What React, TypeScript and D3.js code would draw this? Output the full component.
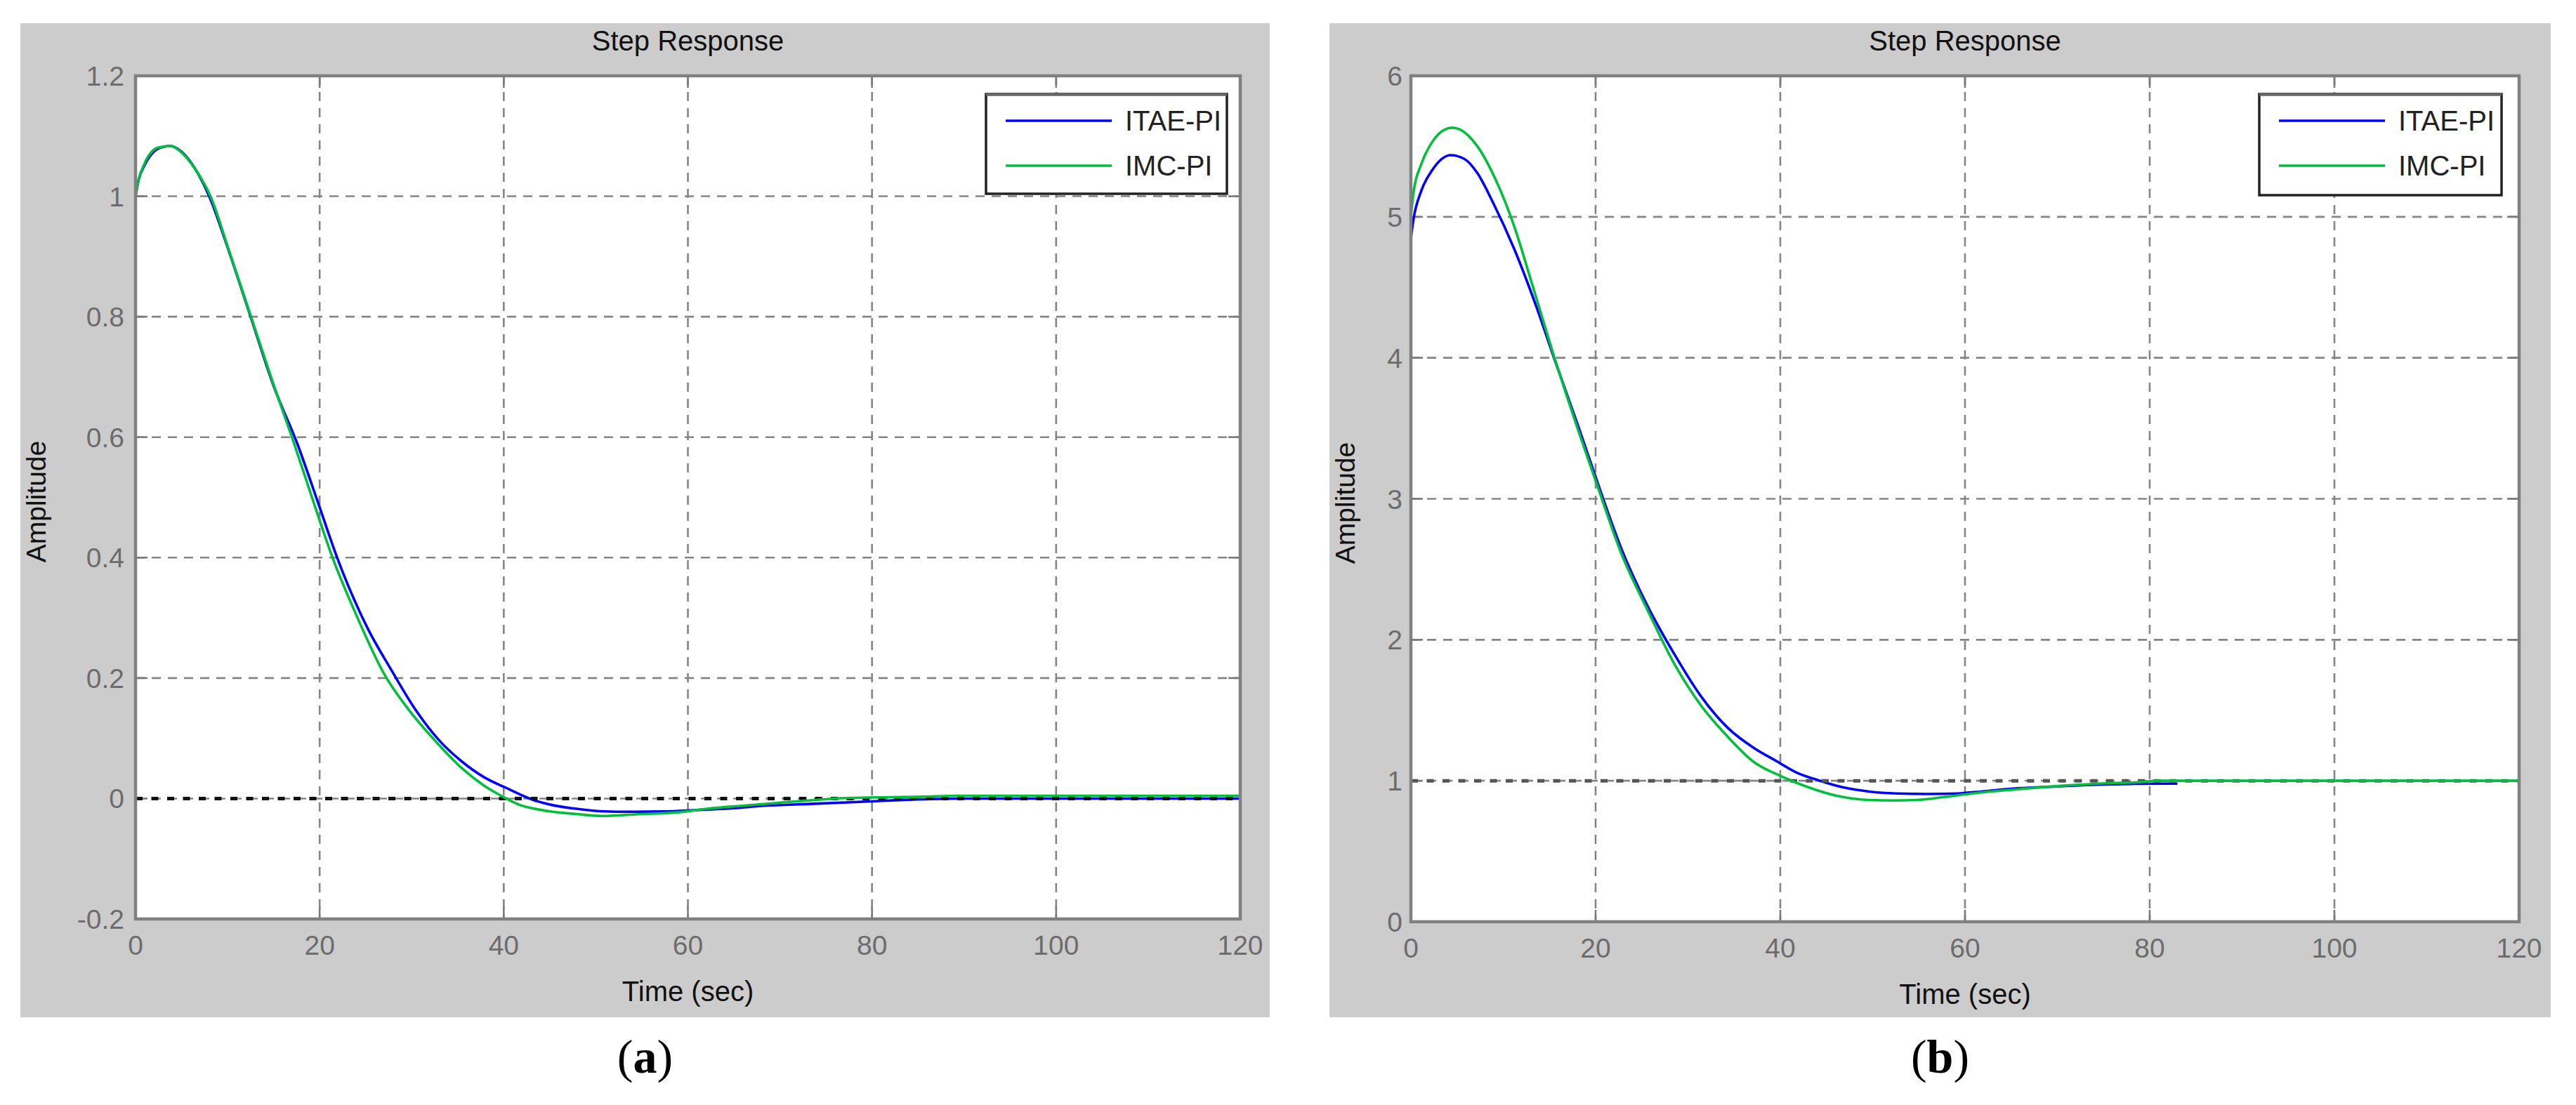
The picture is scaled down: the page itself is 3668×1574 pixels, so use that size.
import React from "react";
import * as d3 from "d3";

// ---------- DATA ----------
const xTicks = [0, 20, 40, 60, 80, 100, 120];
const xTickLabels = ["0", "20", "40", "60", "80", "100", "120"];

const yTicksA = [-0.2, 0, 0.2, 0.4, 0.6, 0.8, 1.0, 1.2];
const yTickLabelsA = ["-0.2", "0", "0.2", "0.4", "0.6", "0.8", "1", "1.2"];
const yTicksB = [0, 1, 2, 3, 4, 5, 6];
const yTickLabelsB = ["0", "1", "2", "3", "4", "5", "6"];

const seriesNames = ["ITAE-PI", "IMC-PI"];
const seriesColors = ["#0000ff", "#00bf3c"];

const finalValueA = 0;
const finalValueB = 1;

// Panel (a) ITAE-PI
const tA_itae = [0, 0.3, 1, 2, 3, 3.8, 5, 6.5, 8, 10, 12.5, 15, 17.6, 19.9, 21.9, 25.2, 27.8, 30.3, 32.9, 35.4, 37.9, 40.2, 43.3, 45.3, 47.6, 50.4, 54, 57.4, 61, 64.5, 68.3, 73.3, 79.5, 84, 90, 100, 110, 120];
const vA_itae = [1.0, 1.025, 1.052, 1.074, 1.082, 1.0835, 1.074, 1.045, 1.0, 0.915, 0.8, 0.685, 0.588, 0.488, 0.4, 0.283, 0.213, 0.15, 0.098, 0.062, 0.035, 0.018, -0.003, -0.011, -0.0165, -0.021, -0.022, -0.0215, -0.019, -0.0165, -0.012, -0.009, -0.005, -0.002, 0, 0, 0, 0];
// Panel (a) IMC-PI
const tA_imc = [0, 0.3, 1, 2.5, 3.8, 4.9, 6.4, 8.2, 10, 12.5, 15, 17.1, 19.1, 21.4, 24, 27, 29.8, 32.9, 35.4, 37.9, 39.8, 41.8, 43.7, 45.3, 48, 50.7, 54.6, 58.9, 62.4, 65.9, 69.4, 73.3, 77.6, 85.4, 89.3, 100, 120];
const vA_imc = [1.0, 1.025, 1.055, 1.081, 1.0835, 1.074, 1.047, 0.998, 0.917, 0.802, 0.687, 0.595, 0.503, 0.4, 0.304, 0.207, 0.145, 0.09, 0.051, 0.021, 0.004, -0.011, -0.018, -0.022, -0.026, -0.029, -0.026, -0.023, -0.0165, -0.012, -0.0076, -0.003, 0.001, 0.003, 0.0045, 0.0045, 0.0045];

// Panel (b) ITAE-PI
const tB_itae = [0, 0.3, 1.1, 2.3, 4.3, 5.8, 7.2, 8.9, 11.2, 13.6, 15.6, 18.2, 20.5, 22.8, 25.7, 28.6, 31.4, 34.3, 37.2, 39.5, 41.7, 44.3, 46.9, 49.6, 52.6, 56, 59.2, 61.8, 65.7, 70.1, 74.4, 78, 81.4, 83];
const vB_itae = [4.85, 4.99, 5.18, 5.33, 5.437, 5.41, 5.31, 5.1, 4.77, 4.36, 3.98, 3.5, 3.06, 2.645, 2.23, 1.89, 1.6, 1.376, 1.23, 1.143, 1.06, 1.0, 0.952, 0.924, 0.91, 0.906, 0.91, 0.924, 0.947, 0.96, 0.973, 0.978, 0.98, 0.98];
// Panel (b) IMC-PI
const tB_imc = [0, 0.3, 1.1, 2.3, 3.7, 4.5, 5.3, 7.2, 9.2, 11.2, 13.0, 15.6, 18.2, 20.2, 22.8, 25.7, 28.6, 31.4, 34.3, 37.2, 40.0, 43.0, 46.1, 49.6, 52.2, 54.8, 57.9, 61.3, 65.7, 70.1, 74.4, 78.8, 81, 90, 100, 120];
const vB_imc = [5.01, 5.18, 5.37, 5.53, 5.62, 5.632, 5.62, 5.5, 5.26, 4.93, 4.55, 3.99, 3.47, 3.09, 2.61, 2.2, 1.82, 1.535, 1.313, 1.13, 1.035, 0.955, 0.894, 0.864, 0.86, 0.864, 0.886, 0.914, 0.94, 0.963, 0.98, 0.99, 1.0, 1.0, 1.0, 1.0];

const titleText = "Step Response";
const xLabelText = "Time (sec)";
const yLabelText = "Amplitude";

// ---------- LAYOUT ----------
const W = 3668;
const H = 1574;
const SANS = "'Liberation Sans', Arial, Helvetica, sans-serif";
const SERIF = "'Liberation Serif', 'Times New Roman', serif";

type PanelCfg = {
  id: string;
  letter: string;
  bg: [number, number, number, number];
  plot: [number, number, number, number]; // left, top, right, bottom
  yDomain: [number, number];
  yTicks: number[];
  yTickLabels: string[];
  labelGap: number;
  yLabelX: number;
  legend: [number, number, number, number];
  finalValue: number;
  finalColor: string;
  series: { t: number[]; v: number[] }[];
};

const panels: PanelCfg[] = [
  {
    id: "a",
    letter: "a",
    bg: [29, 33, 1808, 1449],
    plot: [193, 108, 1766, 1309],
    yDomain: [-0.2, 1.2],
    yTicks: yTicksA,
    yTickLabels: yTickLabelsA,
    labelGap: 16,
    yLabelX: 65,
    legend: [1404, 134, 1747, 276],
    finalValue: finalValueA,
    finalColor: "#111111",
    series: [
      { t: tA_itae, v: vA_itae },
      { t: tA_imc, v: vA_imc },
    ],
  },
  {
    id: "b",
    letter: "b",
    bg: [1893, 33, 3632, 1449],
    plot: [2009, 108, 3587, 1313],
    yDomain: [0, 6],
    yTicks: yTicksB,
    yTickLabels: yTickLabelsB,
    labelGap: 12,
    yLabelX: 1929,
    legend: [3217, 134, 3562, 278],
    finalValue: finalValueB,
    finalColor: "#555555",
    series: [
      { t: tB_itae, v: vB_itae },
      { t: tB_imc, v: vB_imc },
    ],
  },
];

function Panel({ cfg }: { cfg: PanelCfg }) {
  const [L, T, R, B] = cfg.plot;
  const x = d3.scaleLinear().domain([0, 120]).range([L, R]);
  const y = d3.scaleLinear().domain(cfg.yDomain).range([B, T]);
  const line = d3
    .line<[number, number]>()
    .x((d) => x(d[0]))
    .y((d) => y(d[1]))
    .curve(d3.curveMonotoneX);
  const paths = cfg.series.map((s) => line(s.t.map((t, i) => [t, s.v[i]] as [number, number])) || "");
  const clipId = "clip-" + cfg.id;
  const gridColor = "#858585";
  const tickLen = 17;
  const [lx0, ly0, lx1, ly1] = cfg.legend;
  const rowY = [ly0 + 38, ly0 + 102];
  const midX = (L + R) / 2;
  const midY = (T + B) / 2;
  return (
    <g>
      <rect x={cfg.bg[0]} y={cfg.bg[1]} width={cfg.bg[2] - cfg.bg[0]} height={cfg.bg[3] - cfg.bg[1]} fill="#cccccc" />
      <rect x={L} y={T} width={R - L} height={B - T} fill="#ffffff" />
      <defs>
        <clipPath id={clipId}>
          <rect x={L} y={T} width={R - L} height={B - T} />
        </clipPath>
      </defs>
      {/* grid */}
      {xTicks.slice(1, -1).map((t) => (
        <line key={"gx" + t} x1={x(t)} x2={x(t)} y1={T} y2={B} stroke={gridColor} strokeWidth={2.6} strokeDasharray="13 10" />
      ))}
      {cfg.yTicks.slice(1, -1).map((v) => (
        <line key={"gy" + v} x1={L} x2={R} y1={y(v)} y2={y(v)} stroke={gridColor} strokeWidth={2.6} strokeDasharray="13 10" />
      ))}
      {/* ticks */}
      {xTicks.map((t) => (
        <g key={"tx" + t}>
          <line x1={x(t)} x2={x(t)} y1={B} y2={B - tickLen} stroke="#7a7a7a" strokeWidth={2.6} />
          <line x1={x(t)} x2={x(t)} y1={T} y2={T + tickLen} stroke="#7a7a7a" strokeWidth={2.6} />
        </g>
      ))}
      {cfg.yTicks.map((v) => (
        <g key={"ty" + v}>
          <line x1={L} x2={L + tickLen} y1={y(v)} y2={y(v)} stroke="#7a7a7a" strokeWidth={2.6} />
          <line x1={R} x2={R - tickLen} y1={y(v)} y2={y(v)} stroke="#7a7a7a" strokeWidth={2.6} />
        </g>
      ))}
      {/* curves */}
      <g clipPath={`url(#${clipId})`}>
        <path d={paths[0]} fill="none" stroke={seriesColors[0]} strokeWidth={3.6} strokeLinejoin="round" />
        <line x1={L} x2={R} y1={y(cfg.finalValue)} y2={y(cfg.finalValue)} stroke={cfg.finalColor} strokeWidth={5} strokeDasharray="10 12.5" />
        <path d={paths[1]} fill="none" stroke={seriesColors[1]} strokeWidth={3.6} strokeLinejoin="round" />
      </g>
      {/* axes box */}
      <rect x={L} y={T} width={R - L} height={B - T} fill="none" stroke="#808080" strokeWidth={4.5} />
      {/* tick labels */}
      {xTicks.map((t, i) => (
        <text key={"lx" + t} x={x(t)} y={B + 51} textAnchor="middle" fontFamily={SANS} fontSize={39} fill="#6c6c6c">
          {xTickLabels[i]}
        </text>
      ))}
      {cfg.yTicks.map((v, i) => (
        <text key={"ly" + v} x={L - cfg.labelGap} y={y(v)} dy="0.36em" textAnchor="end" fontFamily={SANS} fontSize={39} fill="#6c6c6c">
          {cfg.yTickLabels[i]}
        </text>
      ))}
      {/* titles */}
      <text x={midX} y={72} textAnchor="middle" fontFamily={SANS} fontSize={40} fill="#111">
        {titleText}
      </text>
      <text x={midX} y={B + 117} textAnchor="middle" fontFamily={SANS} fontSize={40} fill="#111">
        {xLabelText}
      </text>
      <text
        x={0}
        y={0}
        transform={`translate(${cfg.yLabelX},${midY + 6}) rotate(-90)`}
        textAnchor="middle"
        fontFamily={SANS}
        fontSize={39}
        fill="#111"
      >
        {yLabelText}
      </text>
      {/* legend */}
      <rect x={lx0} y={ly0} width={lx1 - lx0} height={ly1 - ly0} fill="#ffffff" stroke="#222" strokeWidth={3.5} />
      <line x1={lx0} x2={lx1} y1={ly0 + 0.5} y2={ly0 + 0.5} stroke="#666" strokeWidth={4.5} />
      {seriesNames.map((n, i) => (
        <g key={n}>
          <line x1={lx0 + 28} x2={lx0 + 179} y1={rowY[i]} y2={rowY[i]} stroke={seriesColors[i]} strokeWidth={3.6} />
          <text x={lx0 + 198} y={rowY[i]} dy="0.36em" fontFamily={SANS} fontSize={40} fill="#222">
            {n}
          </text>
        </g>
      ))}
      {/* panel letter */}
      <text x={(cfg.bg[0] + cfg.bg[2]) / 2} y={1528} textAnchor="middle" fontFamily={SERIF} fontSize={68} fill="#000">
        (<tspan fontWeight="bold">{cfg.letter}</tspan>)
      </text>
    </g>
  );
}

export default function App() {
  return (
    <svg
      width={W}
      height={H}
      viewBox={`0 0 ${W} ${H}`}
      style={{ position: "absolute", left: 0, top: 0, display: "block", background: "#ffffff" }}
    >
      <rect x={0} y={0} width={W} height={H} fill="#ffffff" />
      {panels.map((p) => (
        <Panel key={p.id} cfg={p} />
      ))}
    </svg>
  );
}
